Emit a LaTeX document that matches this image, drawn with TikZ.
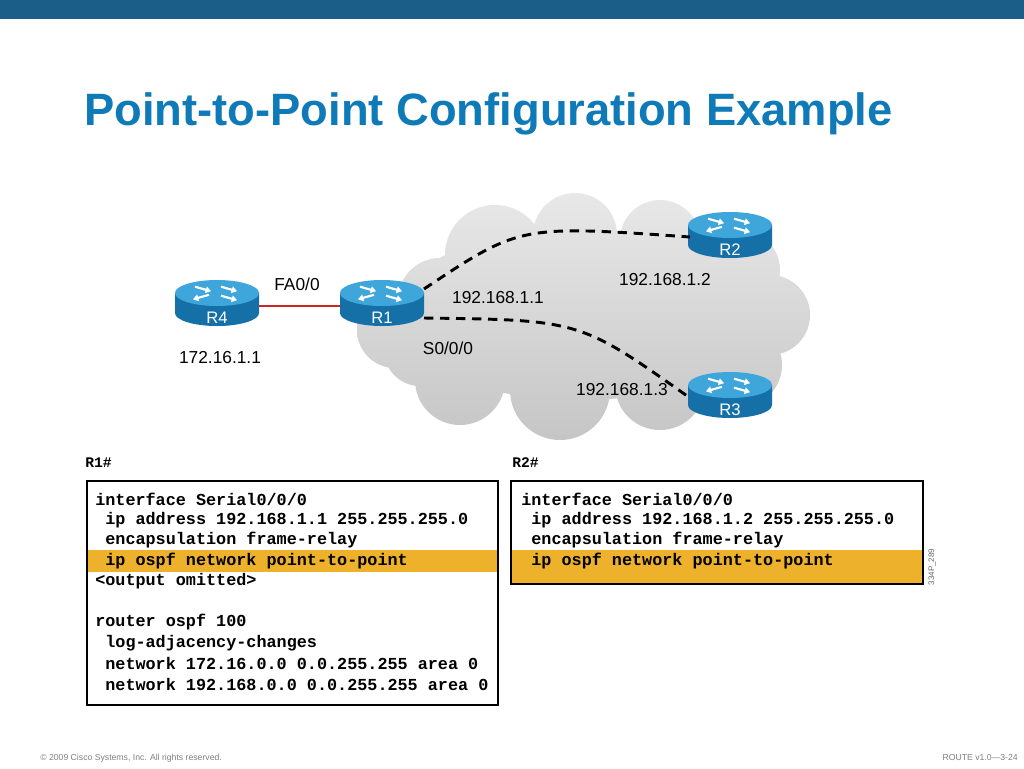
\documentclass[tikz,border=0pt]{standalone}
\usepackage{fontspec}
\setmainfont{Liberation Sans}
\newfontfamily\codefont{Liberation Mono}
\usetikzlibrary{arrows.meta}
\definecolor{bar}{HTML}{1B5E87}
\definecolor{ttl}{HTML}{0F7AB8}
\definecolor{rtop}{HTML}{3FA6DB}
\definecolor{rbody}{HTML}{1670A8}
\definecolor{hl}{HTML}{EDB12B}
\tikzset{
  lbl/.style={font=\fontsize{13}{13}\selectfont, inner sep=0pt},
  code/.style={font=\codefont\bfseries\fontsize{12.6}{12.6}\selectfont, anchor=west, inner sep=0pt},
  dlink/.style={line width=2.2pt, dash pattern=on 7pt off 5pt},
  rarrow/.style={white, line width=1.6pt, -{Triangle[length=4pt,width=5pt]}},
}
\newcommand\myrouter[3]{%
  \fill[rbody] (#2-42,#3) -- (#2-42,#3+20) arc[start angle=180,end angle=0,x radius=42,y radius=13] -- (#2+42,#3) -- cycle;
  \fill[rtop] (#2,#3) ellipse[x radius=42,y radius=13];
  \begin{scope}[shift={(#2,#3)}, yscale=0.45]
    \draw[rarrow] (-22,-14) -- (-6,-4);
    \draw[rarrow] (4,6) -- (20,16);
    \draw[rarrow] (4,-14) -- (20,-4);
    \draw[rarrow] (-8,4) -- (-24,14);
  \end{scope}
  \node[lbl, white, font=\fontsize{12.5}{12.5}\selectfont] (#1) at (#2,#3+25) {#1};
}
\begin{document}
\begin{tikzpicture}[x=0.75pt,y=-0.75pt]
\useasboundingbox (0,0) rectangle (1024,768);
\fill[white] (0,0) rectangle (1024,768);
\fill[bar] (0,0) rectangle (1024,19);
\node[anchor=west, text=ttl, font=\bfseries\fontsize{34}{34}\selectfont, inner sep=0pt] (title) at (84,114) {Point-to-Point Configuration Example};
\shade[top color=gray!18, bottom color=gray!45]
  (395,330) circle[radius=38] (440,300) circle[radius=42] (495,255) circle[radius=50]
  (575,235) circle[radius=42] (660,240) circle[radius=40] (740,270) circle[radius=40]
  (770,315) circle[radius=40] (740,365) circle[radius=42] (660,385) circle[radius=45]
  (560,390) circle[radius=50] (460,380) circle[radius=45] (420,350) circle[radius=36]
  (580,315) ellipse[x radius=190,y radius=85];
\myrouter{R4}{217}{293}
\myrouter{R1}{382}{293}
\myrouter{R2}{730}{225}
\myrouter{R3}{730}{385}
\coordinate (r1a) at (424,289);
\coordinate (r1b) at (424,318);
\coordinate (r2a) at (690,237);
\coordinate (r3a) at (690,398);
\coordinate (r4a) at (259,306);
\coordinate (r1w) at (340,306);
\draw[red!75!black!85, line width=1.5pt] (r4a) -- (r1w);
\draw[dlink] (r1a) .. controls (520,225) .. (r2a);
\draw[dlink] (r1b) .. controls (580,320) .. (r3a);
\node[lbl] (fa) at (297,284) {FA0/0};
\node[lbl] (ip4) at (220,358) {172.16.1.1};
\node[lbl] (ip1) at (498,298) {192.168.1.1};
\node[lbl] (s0) at (448,348) {S0/0/0};
\node[lbl] (ip2) at (665,280) {192.168.1.2};
\node[lbl] (ip3) at (622,390) {192.168.1.3};
\node[code, font=\codefont\bfseries\fontsize{11}{11}\selectfont] (h1) at (85,463) {R1\#};
\node[code, font=\codefont\bfseries\fontsize{11}{11}\selectfont] (h2) at (512,463) {R2\#};
\fill[hl] (87,550) rectangle (498,572);
\fill[hl] (511,550) rectangle (923,584);
\draw[line width=1.4pt] (87,481) rectangle (498,705);
\draw[line width=1.4pt] (511,481) rectangle (923,584);
\node[code] (a1) at (95,499) {interface Serial0/0/0};
\node[code] (a2) at (95,520) {\ ip address 192.168.1.1 255.255.255.0};
\node[code] (a3) at (95,540) {\ encapsulation frame-relay};
\node[code] (a4) at (95,561) {\ ip ospf network point-to-point};
\node[code] (a5) at (95,581) {<output omitted>};
\node[code] (a6) at (95,622) {router ospf 100};
\node[code] (a7) at (95,643) {\ log-adjacency-changes};
\node[code] (a8) at (95,663) {\ network 172.16.0.0 0.0.255.255 area 0};
\node[code] (a9) at (95,684) {\ network 192.168.0.0 0.0.255.255 area 0};
\node[code] (b1) at (521,499) {interface Serial0/0/0};
\node[code] (b2) at (521,520) {\ ip address 192.168.1.2 255.255.255.0};
\node[code] (b3) at (521,540) {\ encapsulation frame-relay};
\node[code] (b4) at (521,561) {\ ip ospf network point-to-point};
\node[rotate=90, font=\fontsize{6}{6}\selectfont, text=gray!80!black, inner sep=0pt] (fig) at (932,567) {334P\_289};
\node[anchor=west, font=\fontsize{6.5}{6.5}\selectfont, text=gray, inner sep=0pt] (cr) at (40,758) {© 2009 Cisco Systems, Inc. All rights reserved.};
\node[anchor=east, font=\fontsize{6.5}{6.5}\selectfont, text=gray, inner sep=0pt] (pg) at (1018,758) {ROUTE v1.0—3-24};
\end{tikzpicture}
\end{document}
